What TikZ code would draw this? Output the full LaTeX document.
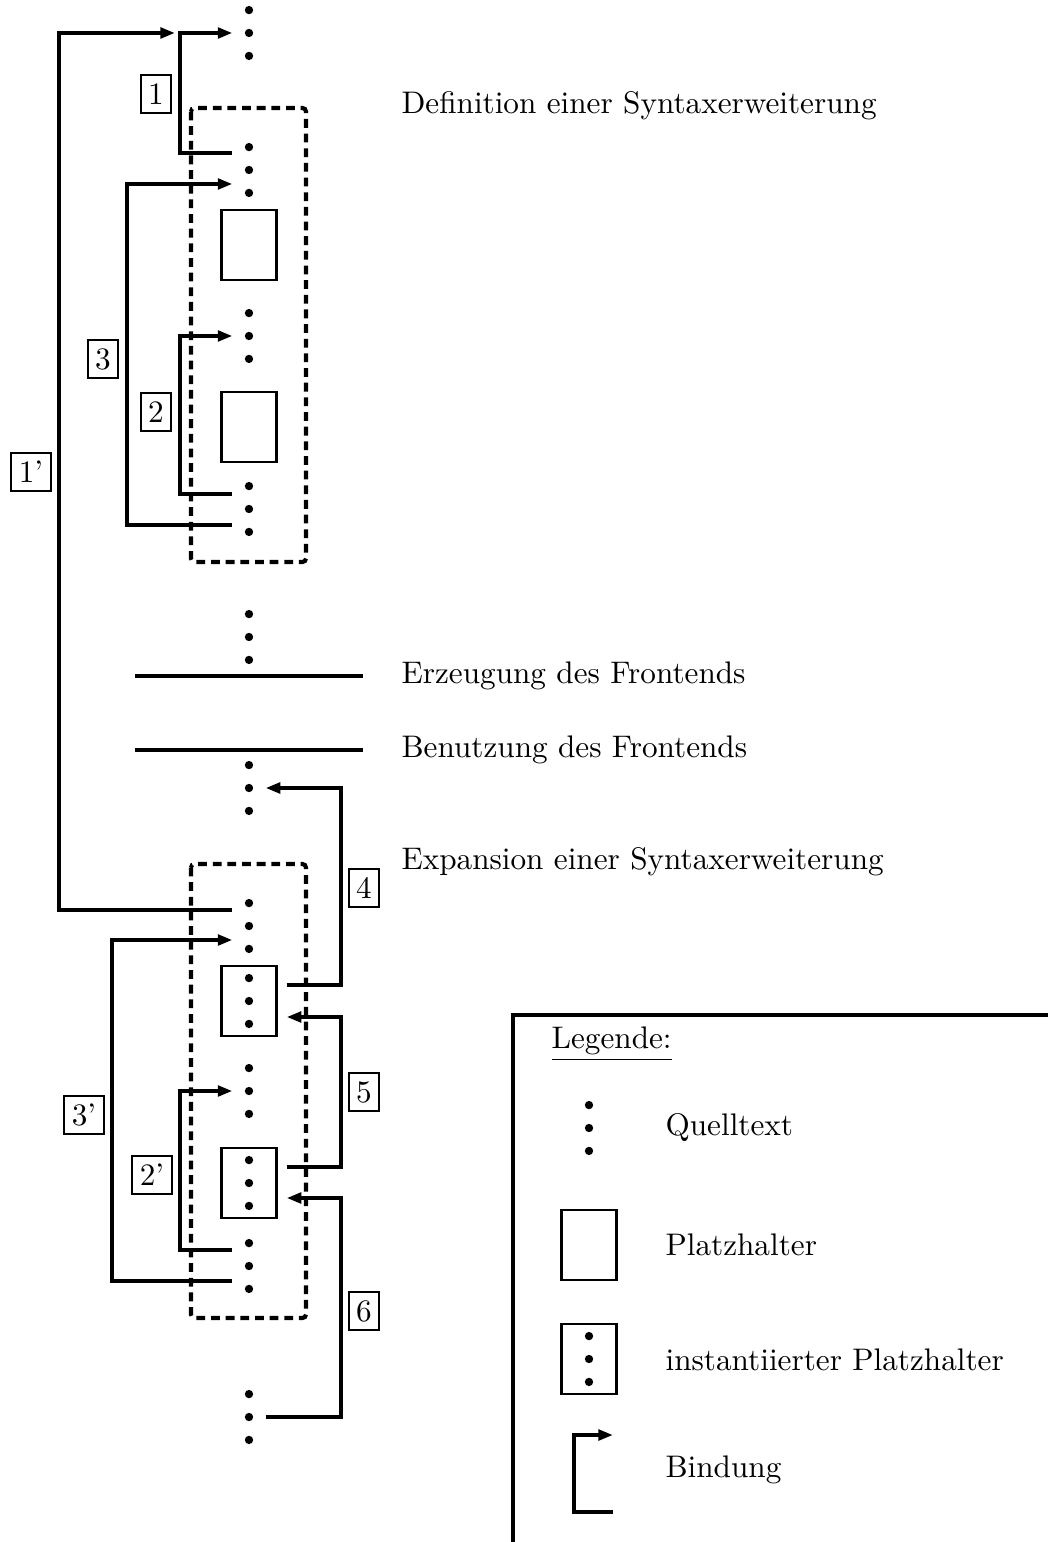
\documentclass[tikz,border=0pt]{standalone}
\usetikzlibrary{positioning}
\usetikzlibrary{arrows.meta}
\usetikzlibrary{calc}

\tikzset{
	quelle/.style={minimum width=3.84mm,minimum height=8mm,inner sep=0pt,
		path picture={\foreach \k in {-1,0,1}
			\fill ([yshift=\k*2.75mm]path picture bounding box.center) circle (0.5mm);}},
	platz/.style={draw,line width=0.8pt,minimum width=6.6mm,minimum height=8.4mm,inner sep=0pt},
	instanz/.style={platz,
		path picture={\foreach \k in {-1,0,1}
			\fill ([yshift=\k*2.75mm]path picture bounding box.center) circle (0.5mm);}},
	nummer/.style={draw,line width=0.7pt,inner sep=2.6pt,minimum height=4.6mm},
	beschrift/.style={anchor=west,inner sep=0pt},
	bindung/.style={line width=1.4pt,-{Triangle[length=5pt,width=3.6pt]}},
	rahmen/.style={line width=1.4pt,dash pattern=on 3pt off 2pt,rounded corners=1.2pt},
	trenn/.style={line width=1.4pt}
}

\begin{document}
\begin{tikzpicture}[x=0.012cm,y=-0.012cm,font=\fontsize{10.65pt}{13pt}\selectfont]
		\useasboundingbox (0,0) rectangle (1048,1542);
		% Definition
		\node (q0) [quelle] at (249,33) {};
		\node (qa) [quelle] at (249,170) {};
		\node (pa) [platz]  at (249,245) {};
		\node (qb) [quelle] at (249,336) {};
		\node (pb) [platz]  at (249,427) {};
		\node (qc) [quelle] at (249,509) {};
		\draw [rahmen] (191,108) rectangle (306,562);
		\node (defi) [beschrift] at (401,106) {Definition einer Syntaxerweiterung};
		% Frontend
		\node (qd) [quelle] at (249,637) {};
		\draw [trenn] (135,676) -- (363,676);
		\draw [trenn] (135,750) -- (363,750);
		\node (erz) [beschrift] at (401,676) {Erzeugung des Frontends};
		\node (ben) [beschrift] at (401,750) {Benutzung des Frontends};
		% Expansion
		\node (qe) [quelle]  at (249,788) {};
		\node (qf) [quelle]  at (249,926) {};
		\node (ia) [instanz] at (249,1001) {};
		\node (qg) [quelle]  at (249,1091) {};
		\node (ib) [instanz] at (249,1183) {};
		\node (qh) [quelle]  at (249,1266) {};
		\node (qi) [quelle]  at (249,1417) {};
		\draw [rahmen] (191,864) rectangle (306,1318);
		\node (expa) [beschrift] at (401,862) {Expansion einer Syntaxerweiterung};
		% Bindungen
		\coordinate (ziel1) at (175,33);
		\draw [bindung] ($(qa.west)+(0,-17)$) -- ++(-52,0) |- (q0.west);
		\draw [bindung] ($(qc.west)+(0,-15)$) -- ++(-52,0) |- (qb.west);
		\draw [bindung] ($(qc.west)+(0,16)$) -- ++(-105,0) |- ($(qa.west)+(0,14)$);
		\draw [bindung] ($(qf.west)+(0,-16)$) -- ++(-173,0) |- (ziel1);
		\draw [bindung] ($(qh.west)+(0,-16)$) -- ++(-52,0) |- (qg.west);
		\draw [bindung] ($(qh.west)+(0,15)$) -- ++(-120,0) |- ($(qf.west)+(0,14)$);
		\draw [bindung] ($(ia.east)+(9,-16)$) -- ++(54,0) |- (qe.east);
		\draw [bindung] ($(ib.east)+(9,-16)$) -- ++(54,0) |- ($(ia.east)+(9,16)$);
		\draw [bindung] (qi.east) -- ++(75,0) |- ($(ib.east)+(9,15)$);
		% Nummern
		\node (n1)  [nummer] at (156,94)   {1};
		\node (n2)  [nummer] at (156,412)  {2};
		\node (n3)  [nummer] at (103,359)  {3};
		\node (n1s) [nummer] at (31,472)   {1'};
		\node (n4)  [nummer] at (364,888)  {4};
		\node (n5)  [nummer] at (364,1092) {5};
		\node (n3s) [nummer] at (84,1115)  {3'};
		\node (n2s) [nummer] at (152,1175) {2'};
		\node (n6)  [nummer] at (364,1311) {6};
		% Legende
		\draw [trenn] (513,1542) -- (513,1015) -- (1048,1015);
		\node (leg) [beschrift] at (551,1044) {\underline{Legende:}};
		\node (lq) [quelle]  at (589,1128) {};
		\node (lp) [platz]   at (589,1245) {};
		\node (li) [instanz] at (589,1359) {};
		\coordinate (lvon)  at (613,1512);
		\coordinate (lnach) at (613,1435);
		\draw [bindung] (lvon) -- ++(-39,0) |- (lnach);
		\node (tq) [beschrift] at (665,1128) {Quelltext};
		\node (tp) [beschrift] at (665,1245) {Platzhalter};
		\node (ti) [beschrift] at (665,1360) {instantiierter Platzhalter};
		\node (tb) [beschrift] at (665,1470) {Bindung};
	\end{tikzpicture}
\end{document}
